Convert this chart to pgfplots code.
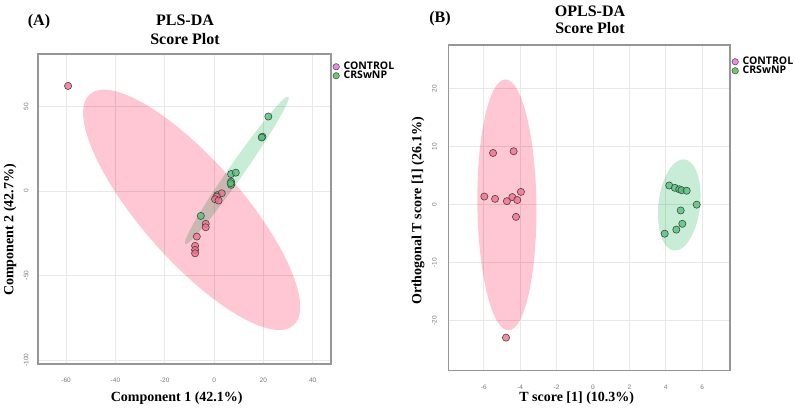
\documentclass[border=0pt]{standalone}
\usepackage{fontspec}
\setmainfont{Liberation Serif}
\setsansfont{Liberation Sans}
\newfontfamily\legfont{Open Sans}
\usepackage{pgfplots}
\pgfplotsset{compat=1.18}
\definecolor{ellPink}{RGB}{255,198,212}
\definecolor{ellGreen}{RGB}{200,237,214}
\definecolor{mkPink}{RGB}{245,110,140}
\definecolor{mkGreen}{RGB}{75,198,120}
\definecolor{legPink}{RGB}{240,135,230}
\definecolor{legGreen}{RGB}{110,200,110}
\definecolor{gridgray}{RGB}{232,232,232}
\definecolor{boxgray}{RGB}{150,150,150}
\definecolor{ticklab}{RGB}{120,120,120}
\definecolor{mkEdge}{RGB}{70,70,70}
\pgfplotsset{
  scorestyle/.style={
    scale only axis, anchor=south west,
    grid=major, major grid style={color=gridgray, line width=0.8pt},
    axis line style={color=boxgray, line width=1.1pt},
    major tick length=0pt,
    /pgf/number format/assume math mode=true,
    tick label style={font=\fontsize{6.5}{7}\selectfont\sffamily, text=ticklab},
    yticklabel style={rotate=90, anchor=south},
    xticklabel style={anchor=north},
    legend cell align=left,
    legend image code/.code={\draw[#1] plot coordinates {(0.12cm,0cm)};},
    legend style={draw=none, fill=none, inner sep=0pt, outer sep=0pt,
      font=\legfont\bfseries\fontsize{10.5}{11.5}\selectfont, row sep=-2.5pt,
      nodes={inner sep=1.2pt},
      /tikz/every odd column/.append style={column sep=3pt}},
  },
  ptsPink/.style={only marks, mark=*, mark size=3.6pt,
    mark options={fill=mkPink, draw=mkEdge, line width=0.6pt, fill opacity=0.8}},
  ptsGreen/.style={only marks, mark=*, mark size=3.6pt,
    mark options={fill=mkGreen, draw=mkEdge, line width=0.6pt, fill opacity=0.8}},
  legP/.style={only marks, mark=*, mark size=3.2pt, mark options={fill=legPink, draw=mkEdge, line width=0.5pt}},
  legG/.style={only marks, mark=*, mark size=3.2pt, mark options={fill=legGreen, draw=mkEdge, line width=0.5pt}},
}
\begin{document}
\begin{tikzpicture}[x=1pt,y=1pt]
\useasboundingbox (0,0) rectangle (795,410);

% ---------------- Panel A ----------------
\begin{axis}[scorestyle,
  at={(38pt,46pt)}, width=293pt, height=310pt,
  xmin=-71.4, xmax=47.4, ymin=-102.4, ymax=81,
  xtick={-60,-40,-20,0,20,40}, ytick={-100,-50,0,50},
  xticklabel shift=10pt, yticklabel shift=6pt,
  legend style={at={(1,1)}, anchor=north west, xshift=2pt, yshift=-7pt},
]
\addlegendimage{legP}
\addlegendimage{legG}
\begin{scope}[blend mode=multiply]
\fill[ellPink, rotate around={-48.6:(axis cs:-9.1,-11.2)}] (axis cs:-9.1,-11.2) ellipse [x radius=154pt, y radius=50pt];
\fill[ellGreen, rotate around={55:(axis cs:9.2,12.2)}] (axis cs:9.2,12.2) ellipse [x radius=90pt, y radius=7.5pt];
\end{scope}
\addplot[ptsGreen, forget plot] coordinates {
(22.0,44.0) (19.6,32.1) (19.3,31.6) (6.9,10.0) (8.8,10.8)
(6.9,5.5) (6.9,3.6) (6.7,4.6) (1.3,-2.5) (-5.4,-14.8)
};
\addplot[ptsPink, forget plot] coordinates {
(-59.2,62.1) (3.1,-1.4) (1.1,-3.4) (0.4,-4.9) (1.8,-5.7)
(-3.4,-19.5) (-3.4,-21.5) (-7.0,-27.0) (-7.7,-32.5) (-7.7,-34.9) (-7.7,-36.9)
};
\legend{CONTROL, CRSwNP}
\end{axis}

% ---------------- Panel B ----------------
\begin{axis}[scorestyle,
  at={(448.3pt,39.3pt)}, width=281.7pt, height=325.7pt,
  xmin=-7.95, xmax=7.53, ymin=-28.6, ymax=27.5,
  xtick={-6,-4,-2,0,2,4,6}, ytick={-20,-10,0,10,20},
  xticklabel shift=11pt, yticklabel shift=8pt,
  legend style={at={(1,1)}, anchor=north west, xshift=2pt, yshift=-11pt},
]
\addlegendimage{legP}
\addlegendimage{legG}
\begin{scope}[blend mode=multiply]
\fill[ellPink, rotate around={0.7:(axis cs:-4.73,-0.05)}] (axis cs:-4.73,-0.05) ellipse [x radius=29.5pt, y radius=125.5pt];
\fill[ellGreen, rotate around={83.4:(axis cs:4.74,-0.05)}] (axis cs:4.74,-0.05) ellipse [x radius=45.9pt, y radius=20.8pt];
\end{scope}
\addplot[ptsPink, forget plot] coordinates {
(-5.49,8.9) (-4.36,9.2) (-5.97,1.4) (-5.38,1.0) (-4.73,0.6)
(-4.43,1.3) (-4.16,0.8) (-3.96,2.2) (-4.23,-2.1) (-4.78,-22.9)
};
\addplot[ptsGreen, forget plot] coordinates {
(4.19,3.3) (4.50,2.9) (4.74,2.65) (4.87,2.5) (5.15,2.4)
(5.70,0.0) (4.82,-1.0) (4.91,-3.3) (4.58,-4.3) (3.94,-5.0)
};
\legend{CONTROL, CRSwNP}
\end{axis}

% ---------------- Titles and labels ----------------
\begin{scope}[font=\bfseries\fontsize{16}{18}\selectfont]
\node at (39,388) {(A)};
\node at (185,389.5) {PLS-DA};
\node at (185,371) {Score Plot};
\node at (440,391) {(B)};
\node at (590,399) {OPLS-DA};
\node at (590,382) {Score Plot};
\end{scope}
\begin{scope}[font=\bfseries\fontsize{14}{16}\selectfont]
\node at (176.7,12) {Component 1 (42.1\%)};
\node[rotate=90] at (10,180) {Component 2 (42.7\%)};
\node at (576.7,12) {T score [1] (10.3\%)};
\node[rotate=90] at (418,199) {Orthogonal T score [1] (26.1\%)};
\end{scope}
\end{tikzpicture}
\end{document}
